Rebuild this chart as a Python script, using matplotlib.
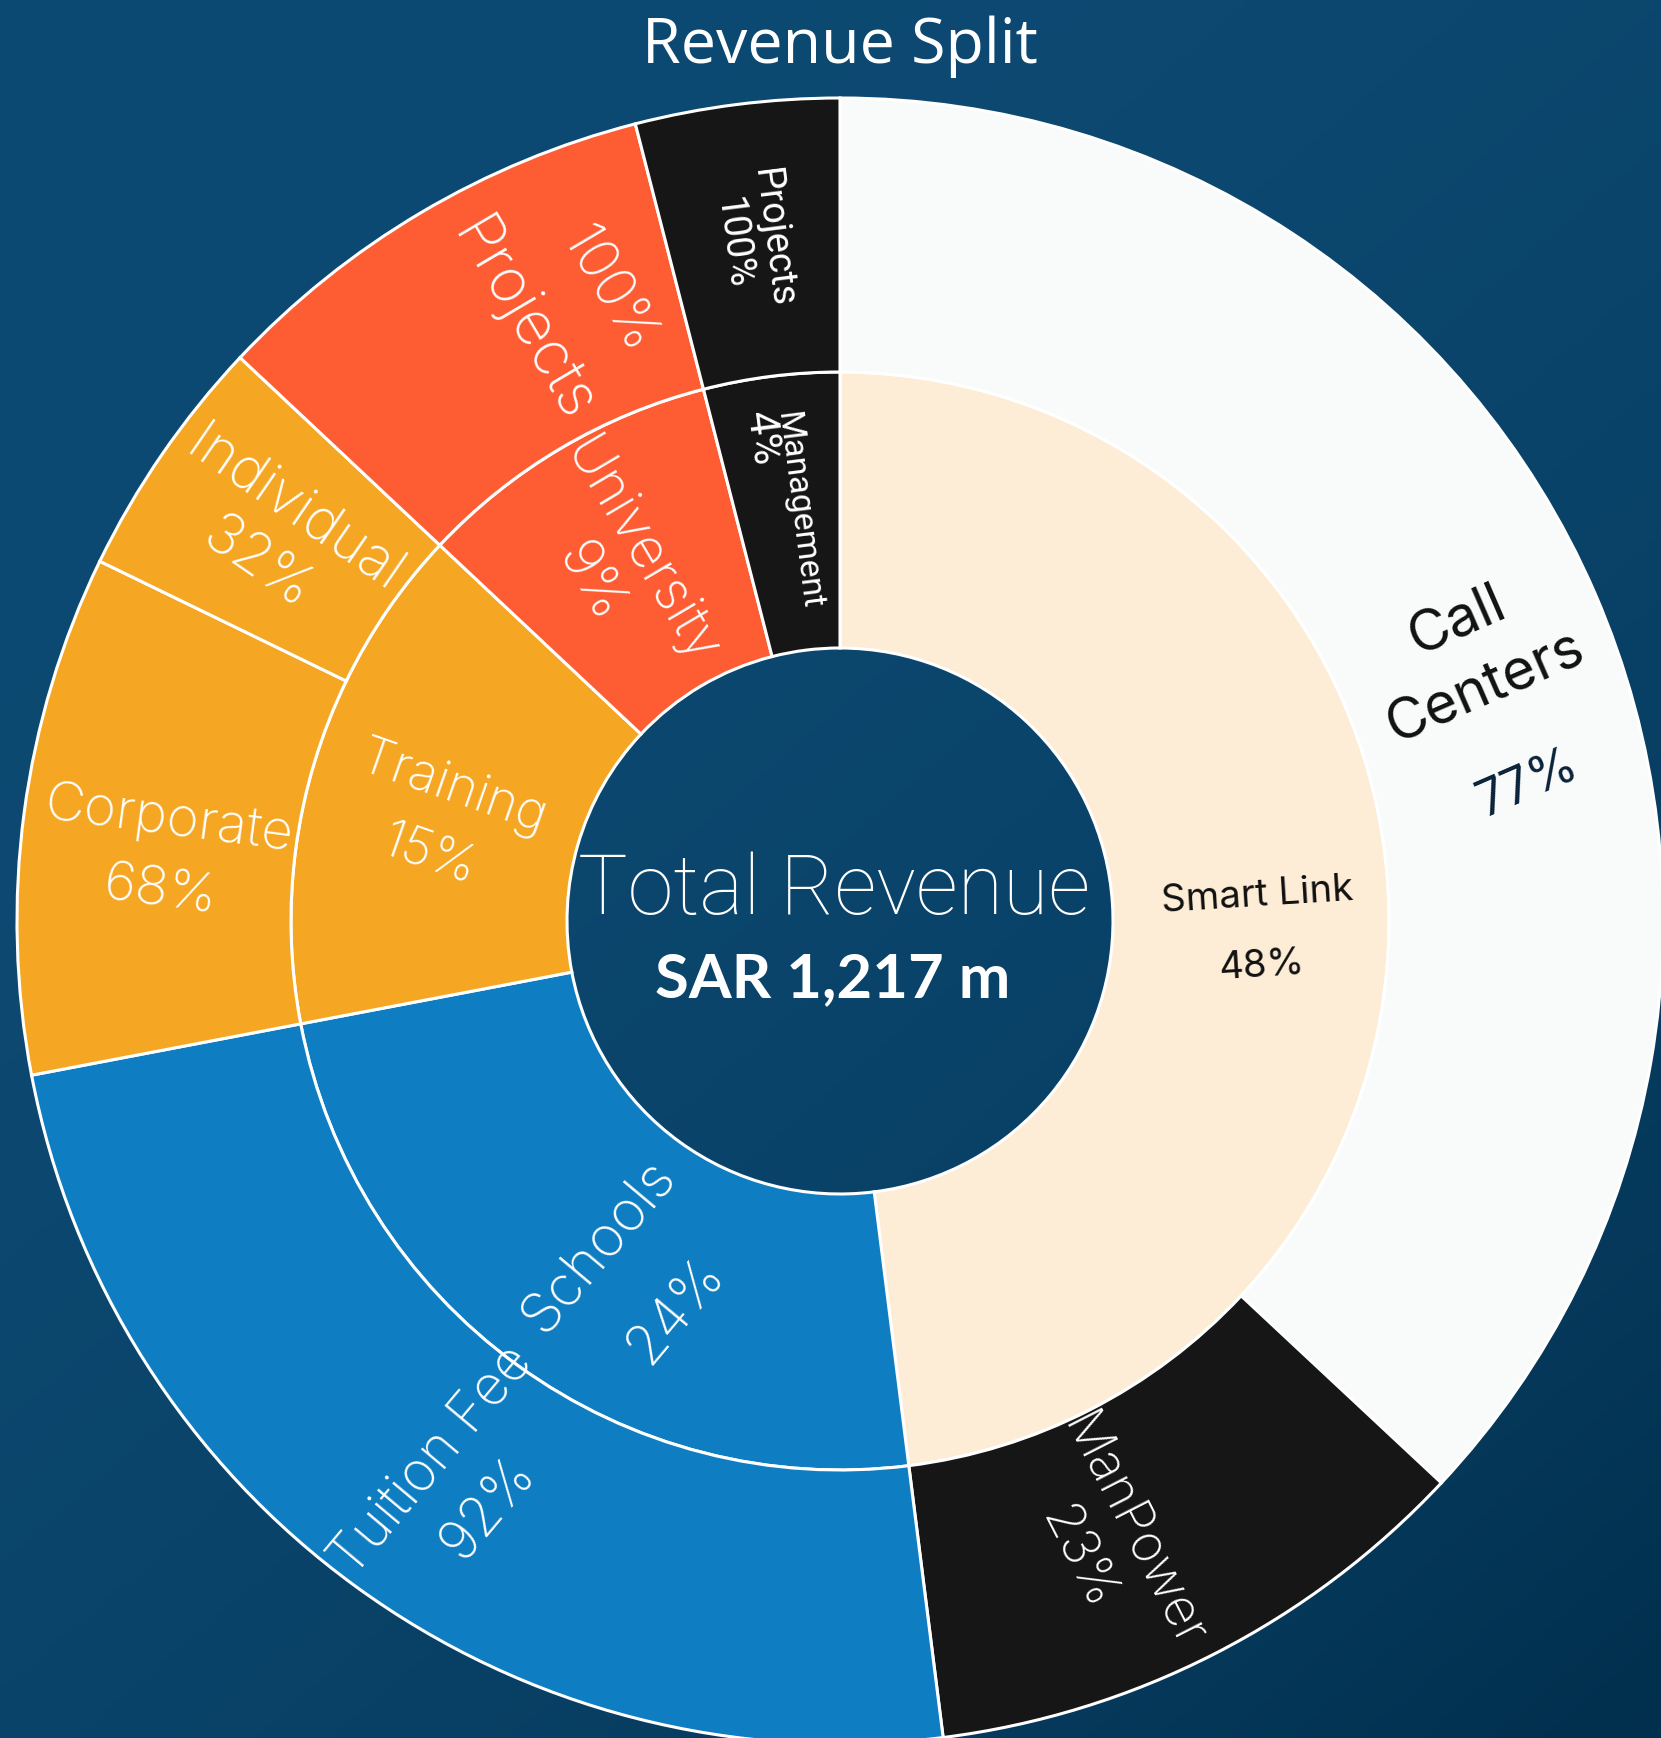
import numpy as np
import matplotlib
matplotlib.use("Agg")
import matplotlib.pyplot as plt

W, H, DPI = 1661, 1738, 100

# ---- data -------------------------------------------------------------
segments = ["Smart Link", "Schools", "Training", "University", "Management"]
segment_pct = [48, 24, 15, 9, 4]

sub_parent = ["Smart Link", "Smart Link", "Schools", "Training", "Training",
              "University", "Management"]
sub_labels = ["Call Centers", "ManPower", "Tuition Fee", "Corporate",
              "Individual", "Projects", "Projects"]
sub_pct = [77, 23, 92, 68, 32, 100, 100]

total_revenue_sar_m = 1217

# ---- colours ----------------------------------------------------------
segment_colors = {"Smart Link": "#FDEDD6", "Schools": "#0E7DC2",
                  "Training": "#F5A623", "University": "#FE5D34",
                  "Management": "#161616"}
sub_colors = ["#F9FBFB", "#161616", "#0E7DC2", "#F5A623", "#F5A623",
              "#FE5D34", "#161616"]

# ---- geometry (pixels) ------------------------------------------------
CX, CY = 840, H - 921
R_HOLE, R_MID, R_OUT = 273, 549, 823

fig = plt.figure(figsize=(W / DPI, H / DPI), dpi=DPI)

# background gradient
bg = fig.add_axes([0, 0, 1, 1])
bg.axis("off")
yy, xx = np.mgrid[0:1:400j, 0:1:400j]
t = np.clip(xx * 0.45 + yy * 0.55, 0, 1) ** 2.4
c0 = np.array([13, 74, 115]) / 255
c1 = np.array([1, 47, 77]) / 255
bg.imshow(c0 + (c1 - c0) * t[..., None], extent=[0, 1, 0, 1],
          origin="upper", aspect="auto", interpolation="bilinear")

ax = fig.add_axes([0, 0, 1, 1])
ax.set_facecolor("none")

edge = dict(edgecolor="white", linewidth=2.2)

inner_wedges, _ = ax.pie(segment_pct, radius=R_MID, center=(CX, CY),
                         startangle=90, counterclock=False,
                         colors=[segment_colors[s] for s in segments],
                         wedgeprops=dict(width=R_MID - R_HOLE, **edge))

# outer ring: each child takes its share of the parent's arc
outer_vals = []
for par, pct in zip(sub_parent, sub_pct):
    siblings = sum(p for q, p in zip(sub_parent, sub_pct) if q == par)
    outer_vals.append(segment_pct[segments.index(par)] * pct / siblings)
outer_wedges, _ = ax.pie(outer_vals, radius=R_OUT, center=(CX, CY),
                         startangle=90, counterclock=False, colors=sub_colors,
                         wedgeprops=dict(width=R_OUT - R_MID, **edge))

ax.set_xlim(0, W)
ax.set_ylim(0, H)
ax.set_aspect("equal")
ax.axis("off")

renderer = fig.canvas.get_renderer()


def fit_size(text, target_px, **kw):
    """Font size in points that makes `text` target_px wide."""
    tmp = fig.text(0, 0, text, fontsize=100, **kw)
    w = tmp.get_window_extent(renderer).width
    tmp.remove()
    return 100 * target_px / w


LIGHT = dict(family=["Inter", "DejaVu Sans"], weight="light")
REG = dict(family=["Inter", "DejaVu Sans"], weight="normal")
ROB = dict(family=["Roboto", "DejaVu Sans"], weight="normal")

# label styling: target width of the widest label line, nudges, spacing
inner_style = {
    "Smart Link": dict(w=192, dth=5.0, dr=9, gap=70, col="#111111", pcol="#111111", f=REG),
    "Schools": dict(w=207, dth=-6.5, dr=0, gap=100, drot=-4, col="white", pcol="white", f=LIGHT),
    "Training": dict(w=194, dth=-2.4, dr=0, gap=72, drot=-3, col="white", pcol="white", f=LIGHT),
    "University": dict(w=252, dth=-1.9, dr=8, gap=60, col="white", pcol="white", f=LIGHT),
    "Management": dict(w=199, dth=1.4, dr=2, gap=27, along=-75, col="white", pcol="white",
                       f=ROB, single=True, pscale=1.25),
}
outer_style = [
    dict(w=210, dth=5.0, dr=2, gap=105, pitch=72, col="#111111", pcol="#0A2239", f=REG,
         pscale=0.88, wrap="Call\nCenters"),
    dict(w=256, dth=4.1, dr=-8, gap=62, col="white", pcol="white", f=LIGHT),
    dict(w=282, dth=-2.0, dr=-6, gap=74, drot=-4, col="white", pcol="white", f=LIGHT),
    dict(w=250, dth=-2.1, dr=-7, gap=72, col="white", pcol="white", f=LIGHT),
    dict(w=248, dth=-0.4, dr=-4, gap=66, col="white", pcol="white", f=LIGHT),
    dict(w=224, dth=6.4, dr=-4, gap=90, along=17, pct_first=True, col="white",
         pcol="white", f=LIGHT, pscale=0.9),
    dict(w=140, dth=-0.1, dr=0, gap=40, col="white", pcol="white", f=ROB),
]


def draw_label(wedge, ring_mid, label, pct, st):
    mid = 90 - (wedge.theta1 + wedge.theta2) / 2      # clockwise from top
    rot = ((90 - mid) + 90) % 180 - 90 + st.get("drot", 0)
    th = np.radians(mid + st["dth"])
    r = ring_mid + st["dr"]
    bx, by = CX + r * np.sin(th), CY + r * np.cos(th)
    pr = np.radians(rot)
    down = np.array([np.sin(pr), -np.cos(pr)])
    along = np.array([np.cos(pr), np.sin(pr)])
    lines = st.get("wrap", label).split("\n")
    fs = fit_size(max(lines, key=len), st["w"], **st["f"])
    pfs = fs * st.get("pscale", 1.0)
    pf = st.get("pf", st["f"])
    pitch = st.get("pitch", st["gap"])
    items = []
    pct_item = (f"{pct}%", st["pcol"], st.get("along", 0.0), pfs, pf)
    if st.get("pct_first"):
        items.append((pct_item[0], 0.0) + pct_item[1:])
        for k, ln in enumerate(lines):
            items.append((ln, st["gap"] + k * pitch, st["col"], 0.0, fs, st["f"]))
    else:
        for k, ln in enumerate(lines):
            items.append((ln, k * pitch, st["col"], 0.0, fs, st["f"]))
        items.append((pct_item[0], (len(lines) - 1) * pitch + st["gap"]) + pct_item[1:])
    shift = 0.0 if st.get("single") else (items[0][1] + items[-1][1]) / 2
    for s, off, col, al, size, font in items:
        p = np.array([bx, by]) + down * (off - shift) + along * al
        ax.text(p[0], p[1], s, rotation=rot, rotation_mode="anchor",
                ha="center", va="center", color=col, fontsize=size, **font)


for wdg, name, pct in zip(inner_wedges, segments, segment_pct):
    draw_label(wdg, (R_HOLE + R_MID) / 2, name, pct, inner_style[name])
for wdg, name, pct, st in zip(outer_wedges, sub_labels, sub_pct, outer_style):
    draw_label(wdg, (R_MID + R_OUT) / 2, name, pct, st)

# centre and title
TITLE = dict(family=["Open Sans", "DejaVu Sans"], weight="normal")
THIN = dict(family=["Roboto", "DejaVu Sans"], weight=100)
BOLD = dict(family=["Lato", "DejaVu Sans"], weight="bold")

title = "Revenue Split"
ax.text(840, H - 63, title, ha="center", va="baseline", color="white",
        fontsize=fit_size(title, 396, **TITLE), **TITLE)
centre_top = "Total Revenue"
ax.text(834, H - 914, centre_top, ha="center", va="baseline", color="white",
        fontsize=fit_size(centre_top, 513, **THIN), **THIN)
centre_val = f"SAR {total_revenue_sar_m:,} m"
ax.text(833, H - 997, centre_val, ha="center", va="baseline", color="white",
        fontsize=fit_size(centre_val, 355, **BOLD), **BOLD)

fig.savefig("out.png", dpi=DPI)
